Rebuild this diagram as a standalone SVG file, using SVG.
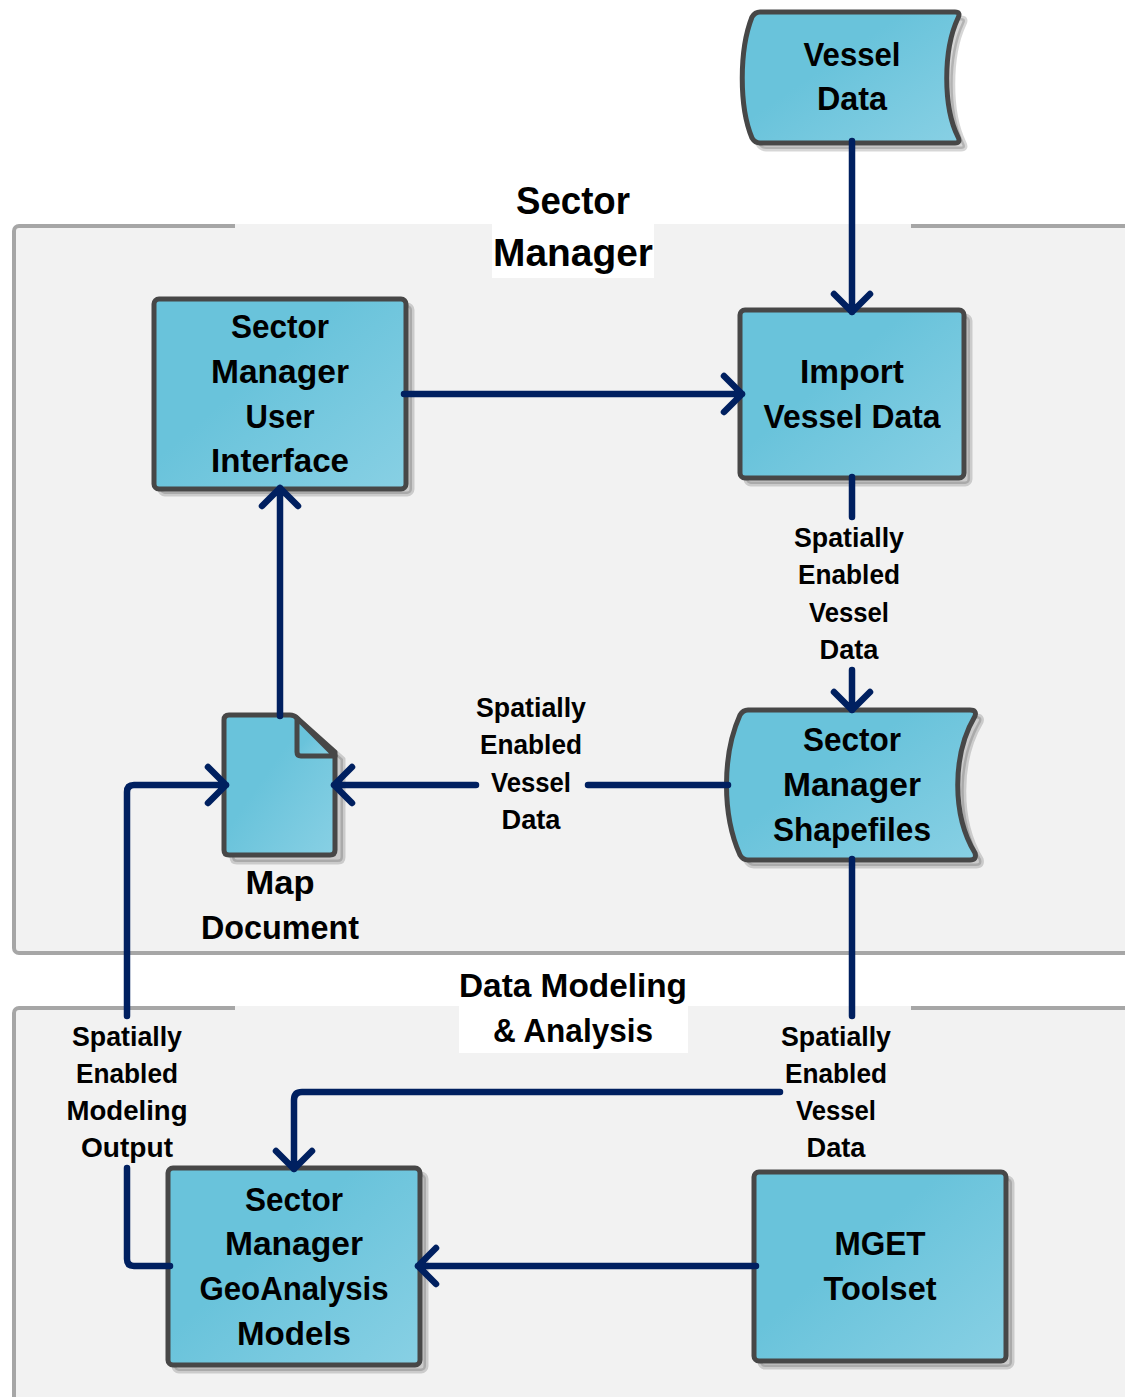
<svg xmlns="http://www.w3.org/2000/svg" width="1125" height="1397" viewBox="0 0 1125 1397">
<style>
.panel{fill:#f2f2f2;stroke:#a6a6a6;stroke-width:4}
.patch{fill:#f2f2f2}
.white{fill:#fff}
.node{fill:url(#g);stroke:#474747;stroke-width:5;stroke-linejoin:round}
.shadow{fill:#000;fill-opacity:.16;stroke:#000;stroke-opacity:.16;stroke-width:5;stroke-linejoin:round}
.conn{fill:none;stroke:#002060;stroke-width:6.5;stroke-linecap:round;stroke-linejoin:round}
text{font-family:"Liberation Sans",Arial,sans-serif;font-weight:700;fill:#000;text-anchor:middle}
.n{font-size:33px}
.s{font-size:27.5px}
.h{font-size:38px}
</style>
<defs>
<linearGradient id="g" x1="0.15" y1="0.25" x2="1" y2="1"><stop offset="0.25" stop-color="#69c3db"/><stop offset="1" stop-color="#88d0e4"/></linearGradient>
<path id="tape1" d="M760 12H955Q961 12 958 18C943 50 943 107 958 137Q961 143 955 143H760Q755 143 752 138C739 107 739 50 752 17Q755 12 760 12Z"/>
<path id="tape2" d="M748 710H970Q977 710 975 716C952 755 952 815 975 853Q977 860 970 860H748Q743 860 740 855C722 815 722 755 740 715Q743 710 748 710Z"/>
<path id="doc" d="M229 715H290Q294 715 297 718L335 752V850Q335 855 330 855H229Q224 855 224 850V720Q224 715 229 715Z"/>
</defs>
<rect class="panel" x="14" y="226" width="1130" height="727" rx="5"/>
<rect class="panel" x="14" y="1008" width="1130" height="400" rx="5"/>
<g id="label-backgrounds">
<rect class="patch" x="235" y="224" width="676" height="8"/>
<rect class="patch" x="235" y="1006" width="676" height="8"/>
<rect class="patch" x="794" y="520" width="110" height="148"/>
<rect class="patch" x="476" y="690" width="111" height="186"/>
<rect class="white" x="492" y="180" width="162" height="98"/>
<rect class="white" x="459" y="966" width="229" height="87"/>
</g>
<g id="vessel-data">
<use href="#tape1" class="shadow" x="6" y="6"/><use href="#tape1" class="node"/>
<text class="n" x="852" y="66" textLength="97" lengthAdjust="spacingAndGlyphs">Vessel</text>
<text class="n" x="852" y="110" textLength="70" lengthAdjust="spacingAndGlyphs">Data</text>
</g>
<g id="sector-manager-title">
<text class="h" x="573" y="214" textLength="114" lengthAdjust="spacingAndGlyphs">Sector</text>
<text class="h" x="573" y="266" textLength="160" lengthAdjust="spacingAndGlyphs">Manager</text>
</g>
<g id="ui">
<rect class="shadow" x="160" y="305" width="252" height="189" rx="5"/>
<rect class="node" x="154" y="299" width="252" height="190" rx="5"/>
<text class="n" x="280" y="338" textLength="98" lengthAdjust="spacingAndGlyphs">Sector</text>
<text class="n" x="280" y="383" textLength="138" lengthAdjust="spacingAndGlyphs">Manager</text>
<text class="n" x="280" y="428" textLength="69" lengthAdjust="spacingAndGlyphs">User</text>
<text class="n" x="280" y="472" textLength="138" lengthAdjust="spacingAndGlyphs">Interface</text>
</g>
<g id="import">
<rect class="shadow" x="746" y="316" width="224" height="168" rx="5"/>
<rect class="node" x="740" y="310" width="224" height="168" rx="5"/>
<text class="n" x="852" y="383" textLength="104" lengthAdjust="spacingAndGlyphs">Import</text>
<text class="n" x="852" y="428" textLength="177" lengthAdjust="spacingAndGlyphs">Vessel Data</text>
</g>
<g id="label-import-shapefiles">
<text class="s" x="849" y="547" textLength="110" lengthAdjust="spacingAndGlyphs">Spatially</text>
<text class="s" x="849" y="584" textLength="102" lengthAdjust="spacingAndGlyphs">Enabled</text>
<text class="s" x="849" y="622" textLength="80" lengthAdjust="spacingAndGlyphs">Vessel</text>
<text class="s" x="849" y="659" textLength="59" lengthAdjust="spacingAndGlyphs">Data</text>
</g>
<g id="shapefiles">
<use href="#tape2" class="shadow" x="6" y="6"/><use href="#tape2" class="node"/>
<text class="n" x="852" y="751" textLength="98" lengthAdjust="spacingAndGlyphs">Sector</text>
<text class="n" x="852" y="796" textLength="138" lengthAdjust="spacingAndGlyphs">Manager</text>
<text class="n" x="852" y="841" textLength="158" lengthAdjust="spacingAndGlyphs">Shapefiles</text>
</g>
<g id="label-shapefiles-map">
<text class="s" x="531" y="717" textLength="110" lengthAdjust="spacingAndGlyphs">Spatially</text>
<text class="s" x="531" y="754" textLength="102" lengthAdjust="spacingAndGlyphs">Enabled</text>
<text class="s" x="531" y="792" textLength="80" lengthAdjust="spacingAndGlyphs">Vessel</text>
<text class="s" x="531" y="829" textLength="59" lengthAdjust="spacingAndGlyphs">Data</text>
</g>
<g id="map-document">
<use href="#doc" class="shadow" x="8" y="7"/><use href="#doc" class="node"/>
<path class="node" d="M297 718V752Q297 756 301 756H335L297 718Z"/>
<text class="n" x="280" y="894" textLength="69" lengthAdjust="spacingAndGlyphs">Map</text>
<text class="n" x="280" y="939" textLength="158" lengthAdjust="spacingAndGlyphs">Document</text>
</g>
<g id="data-modeling-title">
<text class="n" x="573" y="997" textLength="228" lengthAdjust="spacingAndGlyphs">Data Modeling</text>
<text class="n" x="573" y="1042" textLength="160" lengthAdjust="spacingAndGlyphs">&amp; Analysis</text>
</g>
<g id="label-modeling-output">
<text class="s" x="127" y="1046" textLength="110" lengthAdjust="spacingAndGlyphs">Spatially</text>
<text class="s" x="127" y="1083" textLength="102" lengthAdjust="spacingAndGlyphs">Enabled</text>
<text class="s" x="127" y="1120" textLength="121" lengthAdjust="spacingAndGlyphs">Modeling</text>
<text class="s" x="127" y="1157" textLength="92" lengthAdjust="spacingAndGlyphs">Output</text>
</g>
<g id="label-shapefiles-models">
<text class="s" x="836" y="1046" textLength="110" lengthAdjust="spacingAndGlyphs">Spatially</text>
<text class="s" x="836" y="1083" textLength="102" lengthAdjust="spacingAndGlyphs">Enabled</text>
<text class="s" x="836" y="1120" textLength="80" lengthAdjust="spacingAndGlyphs">Vessel</text>
<text class="s" x="836" y="1157" textLength="59" lengthAdjust="spacingAndGlyphs">Data</text>
</g>
<g id="geoanalysis">
<rect class="shadow" x="174" y="1174" width="252" height="197" rx="5"/>
<rect class="node" x="168" y="1168" width="252" height="197" rx="5"/>
<text class="n" x="294" y="1211" textLength="98" lengthAdjust="spacingAndGlyphs">Sector</text>
<text class="n" x="294" y="1255" textLength="138" lengthAdjust="spacingAndGlyphs">Manager</text>
<text class="n" x="294" y="1300" textLength="189" lengthAdjust="spacingAndGlyphs">GeoAnalysis</text>
<text class="n" x="294" y="1345" textLength="114" lengthAdjust="spacingAndGlyphs">Models</text>
</g>
<g id="mget">
<rect class="shadow" x="760" y="1178" width="252" height="189" rx="5"/>
<rect class="node" x="754" y="1172" width="252" height="189" rx="5"/>
<text class="n" x="880" y="1255" textLength="91" lengthAdjust="spacingAndGlyphs">MGET</text>
<text class="n" x="880" y="1300" textLength="113" lengthAdjust="spacingAndGlyphs">Toolset</text>
</g>
<g id="connectors" class="conn">
<path d="M852 141V312M834 294L852 312L870 294"/>
<path d="M404 394H742M724 376L742 394L724 412"/>
<path d="M852 477V517M852 670V710M834 692L852 710L870 692"/>
<path d="M728 785H588M476 785H334M352 767L334 785L352 803"/>
<path d="M280 716V488M262 506L280 488L298 506"/>
<path d="M852 859V1016"/>
<path d="M780 1092H302Q294 1092 294 1100V1169M276 1151L294 1169L312 1151"/>
<path d="M756 1266H418M436 1248L418 1266L436 1284"/>
<path d="M170 1266H134Q127 1266 127 1259V1168M127 1016V792Q127 785 134 785H226M208 767L226 785L208 803"/>
</g>
</svg>
